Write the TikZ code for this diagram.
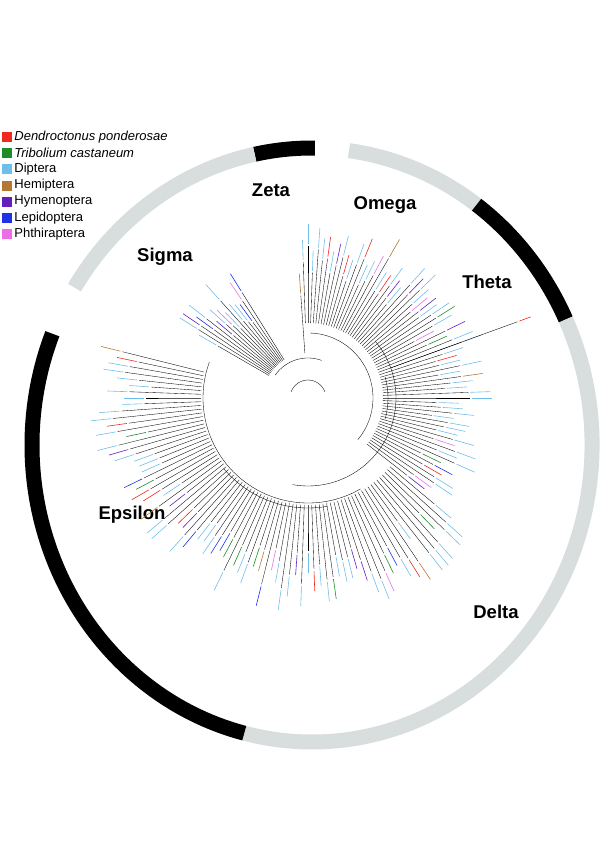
\documentclass[tikz,border=0pt]{standalone}
\usepackage{tikz}
\usepackage{fontspec}
\setmainfont{Liberation Sans}
\definecolor{dpon}{RGB}{240,40,30}
\definecolor{tcas}{RGB}{30,140,40}
\definecolor{dipt}{RGB}{110,190,235}
\definecolor{hemi}{RGB}{180,120,50}
\definecolor{hyme}{RGB}{100,30,190}
\definecolor{lepi}{RGB}{30,50,230}
\definecolor{phth}{RGB}{235,110,230}
\definecolor{ringgray}{RGB}{216,221,221}
\tikzset{
  ring/.style={line width=15pt},
  clade/.style={font=\bfseries\fontsize{18.5}{19}\selectfont},
  legbox/.style={minimum size=10pt,inner sep=0pt},
  legtext/.style={right,font=\fontsize{13}{13}\selectfont,inner sep=2pt},
  branch/.style={line width=0.35pt}
}
\begin{document}
\begin{tikzpicture}[x=1pt,y=1pt]
\useasboundingbox (0,0) rectangle (600,849);
\coordinate (c) at (312,404);
% outer ring
\draw[ring,black] (c) ++(101.8:280 and 297) arc[start angle=101.8,end angle=89.4,x radius=280,y radius=297];
\draw[ring,ringgray] (c) ++(82.4:280 and 297) arc[start angle=82.4,end angle=54,x radius=280,y radius=297];
\draw[ring,black] (c) ++(54:280 and 297) arc[start angle=54,end angle=25,x radius=280,y radius=297];
\draw[ring,ringgray] (c) ++(25:280 and 297) arc[start angle=25,end angle=-104,x radius=280,y radius=297];
\draw[ring,black] (c) ++(-104:280 and 297) arc[start angle=-104,end angle=-202,x radius=280,y radius=297];
\draw[ring,ringgray] (c) ++(148:280 and 297) arc[start angle=148,end angle=101.8,x radius=280,y radius=297];
% clade names
\node[clade] (zeta) at (271,659) {Zeta};
\node[clade] (omega) at (385,644) {Omega};
\node[clade] (theta) at (487,567) {Theta};
\node[clade] (sigma) at (165,592) {Sigma};
\node[clade] (epsilon) at (132,334) {Epsilon};
\node[clade] (delta) at (496,237) {Delta};
% tree
\coordinate (root) at (308,451);
\draw[branch] (root) ++(160:18) arc[start angle=160,end angle=20,radius=18];
\draw[branch] (root) ++(145:40) arc[start angle=145,end angle=70,radius=40];
\draw[branch] (root) ++(88:65) arc[start angle=88,end angle=-40,radius=65];
\draw[branch] (root) ++(40:88) arc[start angle=40,end angle=-100,radius=88];
\draw[branch] (root) ++(-60:105) arc[start angle=-60,end angle=-200,radius=105];
\draw[branch] (root) ++(-80:110) arc[start angle=-80,end angle=-140,radius=110];
\draw[branch] (root) ++(15:80) arc[start angle=15,end angle=-15,radius=80];
\pgfmathsetseed{7}
\foreach \a in {-196,-194,...,150}{
  \pgfmathsetmacro{\skip}{(\a>95 && \a<122) || \a<-194 ? 1 : 0}
  \ifdim\skip pt<0.5pt
  \pgfmathsetmacro{\ri}{\a>92 ? 45 : (\a>-40 ? 75 : 107)}
  \pgfmathsetmacro{\rt}{\ri+45+rnd*45}
  \pgfmathsetmacro{\ro}{\ri+10+rnd*25}
  \pgfmathrandominteger{\k}{1}{15}
  \ifcase\k\or\def\col{dpon}\or\def\col{tcas}\or\def\col{hemi}\or\def\col{hyme}\or\def\col{lepi}\or\def\col{phth}\else\def\col{dipt}\fi
  \draw[branch] (root) ++(\a:\ri) -- ++(\a:\ro-\ri) -- ++(\a:\rt-\ro);
  \draw[\col,line width=0.6pt] (root) ++(\a:\rt+2) -- ++(\a:20);
  \fi
}
\draw[branch] (root) ++(20:88) -- ++(20:135);
\draw[dpon,line width=0.6pt] (root) ++(20:225) -- ++(20:12);
% legend
\foreach \c/\lab [count=\i] in {dpon/\textit{Dendroctonus ponderosae},tcas/\textit{Tribolium castaneum},dipt/Diptera,hemi/Hemiptera,hyme/Hymenoptera,lepi/Lepidoptera,phth/Phthiraptera}{
  \node[legbox,fill=\c] (leg\i) at ({7},{712-16.2*(\i-1)}) {};
  \node[legtext] (legt\i) at (leg\i.east) {\lab};
}
\end{tikzpicture}
\end{document}
